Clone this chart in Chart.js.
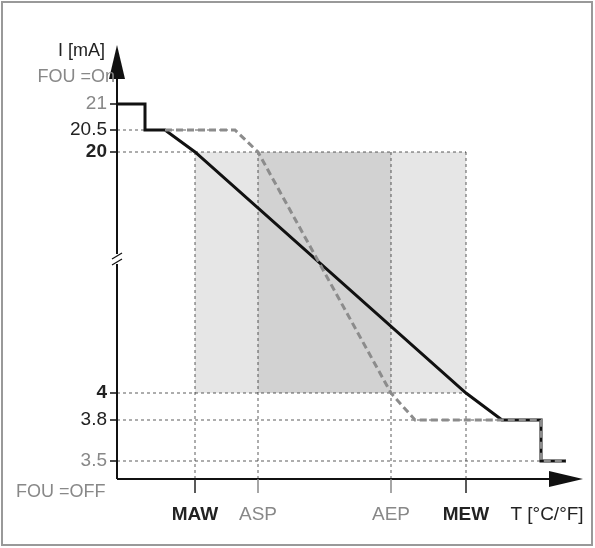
<!DOCTYPE html>
<html><head><meta charset="utf-8">
<script src="https://cdn.jsdelivr.net/npm/chart.js@4"></script>
<style>body{margin:0;background:#fff}#w{position:relative;width:595px;height:548px}</style>
</head><body><div id="w"><canvas id="c" width="595" height="548"></canvas></div>
<script>
// Y tick values (mA) and their display positions (the axis is non-linear / broken)
const yTickValues = [3.5, 3.8, 4, 20, 20.5, 21];
const yTickUnits  = [18, 59, 86, 327, 349, 375];
const yTickColors = ['#888', '#222', '#222', '#222', '#222', '#888'];
const yTickBold   = [false, false, true, true, false, false];
// X markers
const xLabels = ['MAW', 'ASP', 'AEP', 'MEW'];
const xPos    = [78, 141, 274, 349];
const xColors = ['#222', '#888', '#888', '#222'];
// Series: [x, mA]
const solidX = [0, 28, 28, 48, 78, 349, 385, 424, 424, 449];
const solidY = [21, 21, 20.5, 20.5, 20, 4, 3.8, 3.8, 3.5, 3.5];
const dashX  = [48, 118, 141, 274, 298, 424, 424, 449];
const dashY  = [20.5, 20.5, 20, 4, 3.8, 3.8, 3.5, 3.5];

function toU(v){
  for(let i=0;i<yTickValues.length-1;i++){
    const a=yTickValues[i], b=yTickValues[i+1];
    if(v>=a && v<=b) return yTickUnits[i]+(v-a)/(b-a)*(yTickUnits[i+1]-yTickUnits[i]);
  }
  return v<yTickValues[0]?yTickUnits[0]:yTickUnits[yTickUnits.length-1];
}
const pts=(xs,ys)=>xs.map((x,i)=>({x, y:toU(ys[i])}));
const F = '"Liberation Sans Narrow","Arial Narrow","Liberation Sans",sans-serif';

const deco = {
  id:'deco',
  beforeDatasetsDraw(ch){
    const c=ch.ctx, X=ch.scales.x, Y=ch.scales.y;
    const px=v=>X.getPixelForValue(v), py=v=>Y.getPixelForValue(toU(v));
    c.save();
    c.fillStyle='#e6e6e6';
    c.fillRect(px(xPos[0]),py(20),px(xPos[3])-px(xPos[0]),py(4)-py(20));
    c.fillStyle='#d2d2d2';
    c.fillRect(px(xPos[1]),py(20),px(xPos[2])-px(xPos[1]),py(4)-py(20));
    c.strokeStyle='#333'; c.lineWidth=0.8; c.setLineDash([3,3]);
    const hl=(v,x2)=>{c.beginPath();c.moveTo(px(0),py(v));c.lineTo(x2,py(v));c.stroke();};
    hl(20.5,px(118)); hl(20,px(xPos[3])); hl(4,px(xPos[3])); hl(3.8,px(424)); hl(3.5,px(424));
    xPos.forEach(x=>{c.beginPath();c.moveTo(px(x),Y.getPixelForValue(0));c.lineTo(px(x),py(20));c.stroke();});
    c.restore();
  },
  afterDraw(ch){
    const c=ch.ctx, X=ch.scales.x, Y=ch.scales.y;
    const x0=X.getPixelForValue(0), y0=Y.getPixelForValue(0);
    const xE=X.getPixelForValue(X.max), yE=Y.getPixelForValue(Y.max);
    c.save();
    c.strokeStyle='#999'; c.lineWidth=2; c.strokeRect(2,2,590,543);
    c.strokeStyle='#111'; c.fillStyle='#111'; c.lineWidth=2;
    c.beginPath(); c.moveTo(x0,y0); c.lineTo(x0,yE+30); c.stroke();
    c.beginPath(); c.moveTo(x0,yE); c.lineTo(x0-8,yE+34); c.lineTo(x0+8,yE+34); c.closePath(); c.fill();
    c.beginPath(); c.moveTo(x0,y0); c.lineTo(xE-30,y0); c.stroke();
    c.beginPath(); c.moveTo(xE,y0); c.lineTo(xE-34,y0-8); c.lineTo(xE-34,y0+8); c.closePath(); c.fill();
    // axis break
    const yb=Y.getPixelForValue(220);
    c.fillStyle='#fff'; c.fillRect(x0-4,yb-5,8,10);
    c.lineWidth=1.2; c.strokeStyle='#111';
    [-3,3].forEach(d=>{c.beginPath();c.moveTo(x0-5,yb+d+3);c.lineTo(x0+5,yb+d-3);c.stroke();});
    // y ticks
    c.textAlign='right'; c.textBaseline='middle';
    yTickValues.forEach((v,i)=>{
      const y=Y.getPixelForValue(yTickUnits[i]);
      c.strokeStyle='#111'; c.lineWidth=1.5;
      c.beginPath(); c.moveTo(x0-7,y); c.lineTo(x0,y); c.stroke();
      c.fillStyle=yTickColors[i];
      c.font=(yTickBold[i]?'bold ':'')+'19px '+F;
      c.fillText(String(v),x0-10,y);
    });
    c.font='18px '+F; c.fillStyle='#888';
    c.fillText('FOU =On',x0-2,Y.getPixelForValue(375)-27);
    c.textAlign='left';
    c.fillText('FOU =OFF',16,y0+13);
    c.fillStyle='#222'; c.textAlign='right';
    c.fillText('I [mA]',x0-12,yE+6);
    // x ticks
    c.textAlign='center'; c.textBaseline='middle';
    xPos.forEach((x,i)=>{
      const p=X.getPixelForValue(x);
      c.strokeStyle=xColors[i]; c.lineWidth=1.5;
      c.beginPath(); c.moveTo(p,y0); c.lineTo(p,y0+14); c.stroke();
      c.fillStyle=xColors[i];
      c.font=(xColors[i]==='#222'?'bold ':'')+'19px '+F;
      c.fillText(xLabels[i],p,y0+36);
    });
    c.font='19px '+F; c.fillStyle='#222';
    c.fillText('T [°C/°F]',X.getPixelForValue(430),y0+36);
    c.restore();
  }
};

new Chart(document.getElementById('c'),{
  type:'scatter',
  data:{datasets:[
    {data:pts(dashX,dashY),showLine:true,borderColor:'#8c8c8c',borderWidth:3,borderDash:[7,4],pointRadius:0,tension:0},
    {data:pts(solidX,solidY),showLine:true,borderColor:'#111',borderWidth:3,pointRadius:0,tension:0}
  ]},
  options:{
    responsive:false,animation:false,
    layout:{padding:{left:117,right:12,top:45,bottom:69}},
    plugins:{legend:{display:false},tooltip:{enabled:false}},
    scales:{x:{type:'linear',min:0,max:466,display:false},y:{type:'linear',min:0,max:434,display:false}}
  },
  plugins:[deco]
});
</script></body></html>
